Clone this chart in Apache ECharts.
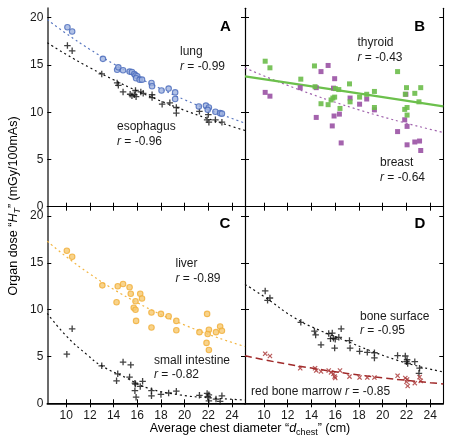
<!DOCTYPE html>
<html><head><meta charset="utf-8">
<script src="https://cdn.jsdelivr.net/npm/echarts@6/dist/echarts.min.js"></script>
<style>html,body{margin:0;padding:0;background:#fff}#c{width:452px;height:444px}</style>
</head><body><div id="c"></div>
<script>
// ---- tick labels ----
const xTicks = [10, 12, 14, 16, 18, 20, 22, 24];
const yTicks = [0, 5, 10, 15, 20];

// ---- Panel A ----
const lung = [[10.1,19.0],[10.5,18.55],[13.1,15.65],[14.3,14.5],[14.4,14.75],[14.8,14.45],[15.35,14.3],[15.55,14.25],[15.75,14.05],[15.85,13.9],[16.0,13.8],[15.9,13.6],[16.2,13.45],[16.4,13.45],[17.2,13.1],[17.25,12.75],[18.05,12.3],[18.65,12.5],[19.2,12.1],[19.2,11.4],[21.2,10.6],[21.8,10.7],[22.05,10.5],[21.95,10.25],[22.6,10.05],[23.0,9.9],[23.15,9.85]];
const esophagus = [[10.1,17.05],[10.5,16.5],[13.0,14.05],[14.3,13.1],[14.4,12.85],[14.8,12.15],[15.4,11.9],[15.55,11.75],[15.75,11.85],[15.85,12.3],[15.9,11.65],[16.3,12.15],[16.5,12.0],[17.25,11.85],[17.25,11.55],[18.1,10.85],[18.75,11.0],[19.3,10.5],[19.3,9.9],[21.25,10.1],[22.0,9.75],[21.9,9.2],[22.05,8.95],[22.6,9.2],[23.15,8.95]];
const lungFit = [[8.4,19.8],[10,18.33],[12,16.65],[14,15.12],[16,13.73],[18,12.47],[20,11.32],[22,10.28],[24,9.34],[25.1,8.85]];
const esophagusFit = [[8.4,17.35],[10,16.12],[12,14.71],[14,13.43],[16,12.25],[18,11.18],[20,10.2],[22,9.31],[24,8.49],[25.1,8.07]];

// ---- Panel B ----
const thyroid = [[10.1,15.4],[10.5,14.7],[13.1,13.5],[14.25,14.9],[14.3,12.7],[14.8,10.9],[15.4,10.8],[15.65,11.3],[15.8,11.5],[15.95,11.6],[16.0,12.5],[16.3,12.4],[16.4,10.4],[17.2,13.0],[17.25,11.1],[18.05,11.6],[18.65,11.9],[19.3,12.2],[19.3,10.5],[21.25,14.3],[22.0,12.6],[21.9,11.9],[22.7,12.0],[23.2,12.6],[23.05,11.1],[21.85,10.3],[22.05,10.5],[22.05,9.7]];
const breast = [[10.1,12.1],[10.5,11.7],[13.05,12.6],[14.4,12.6],[14.4,9.45],[14.8,14.3],[15.4,14.95],[15.95,13.55],[15.85,12.55],[15.9,9.6],[15.75,8.55],[16.35,9.8],[16.5,6.75],[17.25,11.5],[18.05,10.85],[18.65,11.4],[19.3,10.25],[21.95,11.9],[21.85,9.2],[22.05,8.5],[21.25,7.95],[22.05,6.55],[22.7,6.85],[23.1,6.95],[23.2,5.95]];
const thyroidFit = [[8.4,13.8],[16.85,12.2],[25.1,10.62]];
const breastFit = [[8.4,14.69],[10,13.84],[12,12.84],[14,11.91],[16,11.05],[18,10.25],[20,9.51],[22,8.83],[24,8.19],[25.1,7.86]];

// ---- Panel C ----
const liver = [[10.05,16.3],[10.5,15.65],[13.05,12.6],[14.35,12.5],[14.25,10.8],[14.8,12.75],[15.35,12.4],[15.45,11.7],[15.85,10.9],[15.7,10.2],[15.85,10.0],[15.9,8.8],[16.25,11.7],[16.4,11.2],[17.2,9.7],[17.2,8.1],[18.0,9.55],[18.65,9.3],[19.3,8.8],[19.3,7.8],[21.25,7.6],[21.9,9.55],[22.05,7.85],[21.95,7.4],[21.85,6.45],[22.05,5.7],[22.65,7.6],[23.0,8.2],[23.15,7.75]];
const smallIntestine = [[10.05,5.25],[10.5,7.95],[13.0,4.0],[14.35,3.15],[14.25,2.4],[14.8,4.4],[15.45,4.1],[15.35,2.8],[15.8,2.15],[15.85,2.05],[15.8,1.35],[15.9,0.65],[16.25,1.8],[16.45,2.35],[17.2,1.35],[17.2,0.8],[18.0,0.95],[18.65,1.1],[19.3,1.3],[21.25,0.85],[21.9,1.05],[22.05,0.9],[21.95,0.7],[22.05,0.25],[22.65,0.45],[23.0,0.2],[23.15,0.8]];
const liverFit = [[8.4,17.32],[10,15.66],[12,13.82],[14,12.18],[16,10.75],[18,9.48],[20,8.36],[22,7.37],[24,6.5],[25.1,6.07]];
const smallIntestineFit = [[8.4,9.6],[10,7.2],[11.75,5.2],[13,4.0],[15.1,2.7],[16.85,1.65],[19.6,0.9],[22,0.6],[25.1,0.35]];

// ---- Panel D ----
const boneSurface = [[10.1,12.0],[10.5,11.25],[10.3,11.0],[13.1,8.65],[14.25,7.7],[14.35,7.3],[14.8,6.25],[15.45,7.45],[15.6,6.9],[15.75,7.5],[15.85,6.95],[16.0,6.85],[15.95,5.9],[16.3,7.05],[16.5,7.95],[17.2,6.7],[17.25,5.9],[18.05,5.55],[18.7,5.45],[19.3,5.4],[19.3,4.85],[21.25,5.1],[21.9,5.05],[22.05,4.65],[22.0,4.45],[22.1,4.25],[22.7,4.45],[23.1,3.75],[23.05,3.2]];
const redMarrow = [[10.1,5.3],[10.5,5.05],[13.05,3.75],[14.3,3.75],[14.4,3.5],[14.8,3.4],[15.45,3.5],[15.65,3.3],[15.85,3.15],[15.95,2.85],[16.0,2.7],[16.4,3.5],[17.2,2.85],[18.05,2.75],[18.7,2.75],[19.3,2.75],[21.25,2.95],[21.9,2.7],[22.05,2.55],[22.0,2.3],[22.1,1.85],[22.7,2.15],[23.1,2.8],[23.2,2.4]];
const boneSurfaceFit = [[8.4,12.7],[10,11.4],[12.6,9.1],[14.5,7.9],[16.85,6.7],[19,5.6],[21.1,4.65],[23,3.95],[25.1,3.35]];
const redMarrowFit = [[8.4,5.07],[10,4.65],[12,4.18],[14,3.76],[16,3.37],[18,3.03],[20,2.72],[22,2.45],[24,2.2],[25.1,2.07]];

const FONT = 'Liberation Sans, Arial, Helvetica, sans-serif';
const TXT = '#1a1a1a';
const PLUS = 'path://M4,0H6V4H10V6H6V10H4V6H0V4H4Z';

const grids = [
  {left:47.3, top:8.3, width:197.7, height:198.4},
  {left:245, top:8.3, width:198.3, height:198.4},
  {left:47.3, top:206.7, width:197.7, height:196.6},
  {left:245, top:206.7, width:198.3, height:196.6}
];

const xAxes = [], yAxes = [];
grids.forEach((g, i) => {
  const bottomRow = i >= 2, leftCol = i % 2 === 0;
  xAxes.push({gridIndex:i, type:'value', min:8.4, max:25.1, position:'bottom',
    axisLine:{lineStyle:{color:'#000', width: bottomRow ? 1.6 : 1.1}},
    axisTick:{show:true, inside:true, length:4, customValues:xTicks, lineStyle:{color:'#000'}},
    axisLabel:{show:bottomRow, customValues:xTicks, color:TXT, fontFamily:FONT, fontSize:12, margin:6},
    splitLine:{show:false}});
  xAxes.push({gridIndex:i, type:'value', min:8.4, max:25.1, position:'top',
    axisLine:{lineStyle:{color:'#000', width:1.1}},
    axisTick:{show:true, inside:true, length:4, customValues:xTicks, lineStyle:{color:'#000'}},
    axisLabel:{show:false}, splitLine:{show:false}});
  yAxes.push({gridIndex:i, type:'value', min:0, max:21, position:'left',
    axisLine:{lineStyle:{color: leftCol ? '#6b6b6b' : '#000', width: leftCol ? 2 : 1.1}},
    axisTick:{show:true, inside:true, length:4, customValues:yTicks, lineStyle:{color:'#000'}},
    axisLabel:{show:leftCol, customValues:yTicks, color:TXT, fontFamily:FONT, fontSize:12, margin:4},
    splitLine:{show:false}});
  yAxes.push({gridIndex:i, type:'value', min:0, max:21, position:'right',
    axisLine:{lineStyle:{color:'#000', width:1.1}},
    axisTick:{show:true, inside:true, length:4, customValues:yTicks, lineStyle:{color:'#000'}},
    axisLabel:{show:false}, splitLine:{show:false}});
});

function fit(data, g, color, type, width) {
  return {type:'line', data:data, xAxisIndex:2*g, yAxisIndex:2*g, smooth:true, showSymbol:false,
    silent:true, z:1, lineStyle:{color:color, width:width || 1.2, type:type}};
}
function pts(data, g, symbol, size, itemStyle, rotate) {
  return {type:'scatter', data:data, xAxisIndex:2*g, yAxisIndex:2*g, symbol:symbol, symbolSize:size,
    symbolRotate: rotate || 0, itemStyle:itemStyle, z:3};
}

const series = [
  fit(lungFit, 0, '#5a78c0', [2,3]),
  fit(esophagusFit, 0, '#111', [2,3]),
  pts(esophagus, 0, PLUS, 6.5, {color:'#111'}),
  pts(lung, 0, 'circle', 5.5, {color:'#9fb3e0', borderColor:'#4668ba', borderWidth:1.1}),

  fit(breastFit, 1, '#a063ad', [2,3]),
  fit(thyroidFit, 1, '#6cc04c', 'solid', 2.2),
  pts(breast, 1, 'rect', 5, {color:'#9a52a4', opacity:0.9}),
  pts(thyroid, 1, 'rect', 5, {color:'#6cbd4a', opacity:0.9}),

  fit(liverFit, 2, '#f2b541', [2,3]),
  fit(smallIntestineFit, 2, '#111', [2,3]),
  pts(smallIntestine, 2, PLUS, 6.5, {color:'#111'}),
  pts(liver, 2, 'circle', 5.5, {color:'#f6c86e', borderColor:'#f0ad35', borderWidth:1.1}),

  fit(boneSurfaceFit, 3, '#111', [2,3]),
  fit(redMarrowFit, 3, '#a02a2a', [7,4], 1.5),
  pts(boneSurface, 3, PLUS, 6.5, {color:'#111'}),
  pts(redMarrow, 3, PLUS, 6, {color:'#a83232'}, 45)
];

const rich = {
  n:{fontFamily:FONT, fontSize:12, color:TXT},
  i:{fontFamily:FONT, fontSize:12, color:TXT, fontStyle:'italic'}
};
function ann(x, y, text) {
  return {type:'text', left:x, top:y - 7, z:10, style:{text:text, rich:rich, font:'12px '+FONT, fill:TXT}};
}
function letter(cx, cy, t) {
  return {type:'text', x:cx, y:cy, z:10, style:{text:t, fontFamily:FONT, fontSize:15, fontWeight:'bold', fill:'#000', align:'center', verticalAlign:'middle'}};
}

const graphic = [
  letter(225.5, 27, 'A'), letter(419.7, 27, 'B'), letter(225, 224, 'C'), letter(420, 224, 'D'),
  ann(180, 53, '{n|lung}'), ann(180, 67.5, '{i|r}{n| = -0.99}'),
  ann(117, 128, '{n|esophagus}'), ann(117, 143, '{i|r}{n| = -0.96}'),
  ann(357.5, 44, '{n|thyroid}'), ann(357.5, 59, '{i|r}{n| = -0.43}'),
  ann(380, 164, '{n|breast}'), ann(380, 179, '{i|r}{n| = -0.64}'),
  ann(175.5, 264.5, '{n|liver}'), ann(175.5, 279.5, '{i|r}{n| = -0.89}'),
  ann(154, 361.5, '{n|small intestine}'), ann(154, 376, '{i|r}{n| = -0.82}'),
  ann(360, 317.5, '{n|bone surface}'), ann(360, 332, '{i|r}{n| = -0.95}'),
  ann(251, 392.5, '{n|red bone marrow }{i|r}{n| = -0.85}'),
  {type:'text', x:250, y:429, z:10, style:{
    text:'{n|Average chest diameter \u201C}{i|d}{s|chest}{n|\u201D (cm)}',
    align:'center', verticalAlign:'middle',
    rich:{n:{fontFamily:FONT, fontSize:12.5, color:TXT, lineHeight:16},
          i:{fontFamily:FONT, fontSize:12.5, color:TXT, fontStyle:'italic', lineHeight:16},
          s:{fontFamily:FONT, fontSize:9, color:TXT, lineHeight:16, verticalAlign:'bottom', padding:[5,0,0,0]}}}},
  {type:'text', x:14, y:206, rotation:Math.PI/2, z:10, style:{
    text:'{n|Organ dose \u201C}{i|H}{s|T}{n|\u201D (mGy/100mAs)}',
    align:'center', verticalAlign:'middle',
    rich:{n:{fontFamily:FONT, fontSize:12.5, color:TXT, lineHeight:16},
          i:{fontFamily:FONT, fontSize:12.5, color:TXT, fontStyle:'italic', lineHeight:16},
          s:{fontFamily:FONT, fontSize:9, color:TXT, fontStyle:'italic', lineHeight:16, verticalAlign:'bottom', padding:[5,0,0,0]}}}}
];

const chart = echarts.init(document.getElementById('c'), null, {renderer:'canvas'});
chart.setOption({
  animation:false,
  backgroundColor:'#fff',
  grid:grids,
  xAxis:xAxes,
  yAxis:yAxes,
  series:series,
  graphic:graphic
});
</script>
</body></html>
